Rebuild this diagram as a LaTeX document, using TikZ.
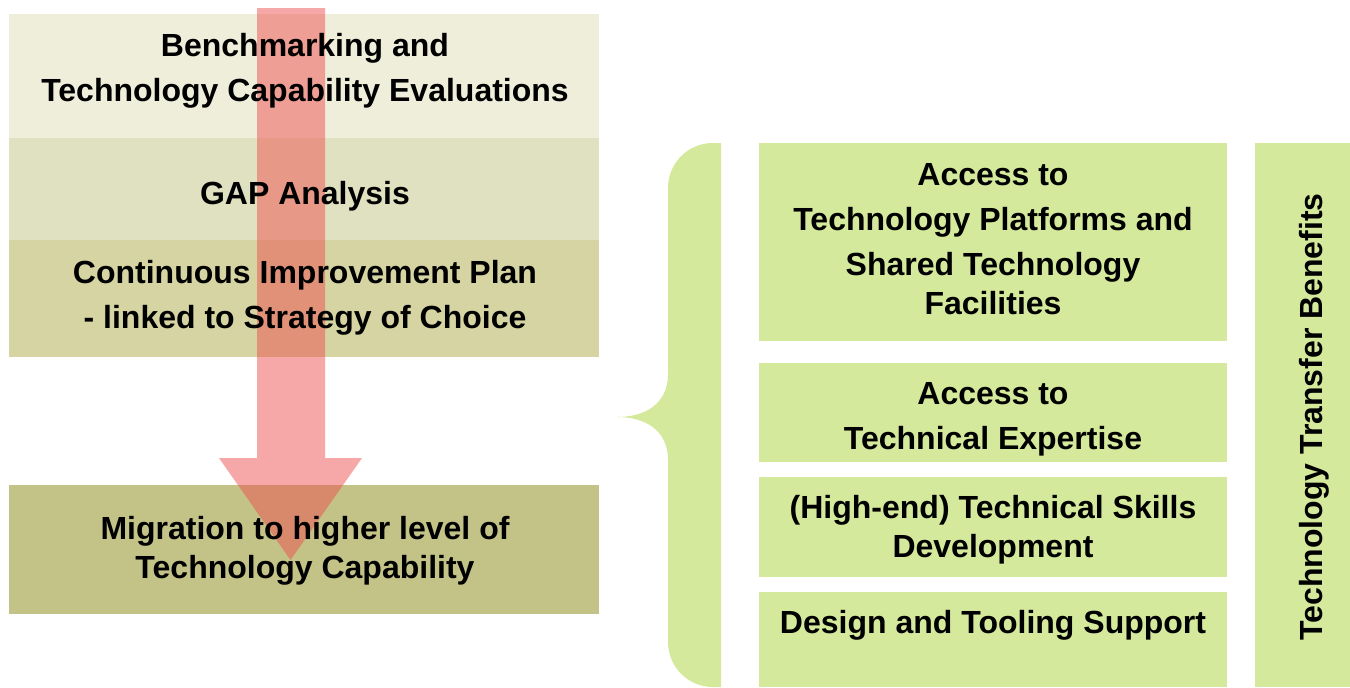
\documentclass[tikz,border=0pt]{standalone}
\usepackage{fontspec}
\setmainfont{Liberation Sans}
\definecolor{benchcol}{RGB}{238,238,218}
\definecolor{gapcol}{RGB}{224,225,192}
\definecolor{plancol}{RGB}{213,212,162}
\definecolor{migcol}{RGB}{196,195,135}
\definecolor{benefitcol}{RGB}{212,233,155}
\definecolor{arrowcol}{RGB}{238,80,80}
\tikzset{
	box/.style={rectangle, draw=none, inner sep=0pt, anchor=north west},
	lbox/.style={box, minimum width=295pt},
	rbox/.style={box, fill=benefitcol, minimum width=234pt},
	lbl/.style={align=center, inner sep=0pt, font=\fontsize{16}{22.5}\selectfont\bfseries},
	tight/.style={font=\fontsize{16}{19.5}\selectfont\bfseries}
}

\begin{document}
\begin{tikzpicture}[x=0.5pt, y=-0.5pt]
	\useasboundingbox (0,0) rectangle (1350,687);

	% left column
	\node[lbox, fill=benchcol, minimum height=62pt] (bench) at (9,14) {};
	\node[lbox, fill=gapcol, minimum height=51pt] (gap) at (9,138) {};
	\node[lbox, fill=plancol, minimum height=58.5pt] (plan) at (9,240) {};
	\node[lbox, fill=migcol, minimum height=64.5pt] (mig) at (9,485) {};

	% arrow
	\fill[arrowcol, opacity=0.5] (257,8) -- (325,8) -- (325,458) -- (362,458)
		-- (290.5,560) -- (219,458) -- (257,458) -- cycle;

	\node[lbl] (benchtxt) at (305,71) {Benchmarking and\\Technology Capability Evaluations};
	\node[lbl] (gaptxt) at (305,196) {GAP Analysis};
	\node[lbl] (plantxt) at (305,298) {Continuous Improvement Plan\\- linked to Strategy of Choice};
	\node[lbl, tight] (migtxt) at (305,551) {Migration to higher level of\\Technology Capability};

	% brace
	\fill[benefitcol] (721,143) -- (721,687) -- (713,687)
		.. controls (688,687) and (668,667) .. (668,642) -- (668,460)
		.. controls (668,430) and (645,417) .. (617,417)
		.. controls (645,417) and (668,404) .. (668,374) -- (668,188)
		.. controls (668,163) and (688,143) .. (713,143) -- cycle;

	% right column
	\node[rbox, minimum height=99pt] (access) at (759,143) {};
	\node[rbox, minimum height=49.5pt] (expert) at (759,363) {};
	\node[rbox, minimum height=50pt] (skills) at (759,477) {};
	\node[rbox, minimum height=47.5pt] (design) at (759,592) {};
	\node[box, fill=benefitcol, minimum width=47.5pt, minimum height=272pt] (benefit) at (1255,143) {};

	\node[lbl] (accesstxt) at (993,239) {Access to\\Technology Platforms and\\Shared Technology\\[-3pt]Facilities};
	\node[lbl] (experttxt) at (993,419) {Access to\\Technical Expertise};
	\node[lbl, tight] (skillstxt) at (993,530) {(High-end) Technical Skills\\Development};
	\node[lbl] (designtxt) at (993,625) {Design and Tooling Support};
	\node[lbl, rotate=90] (benefittxt) at (1314,417) {Technology Transfer Benefits};
\end{tikzpicture}
\end{document}
